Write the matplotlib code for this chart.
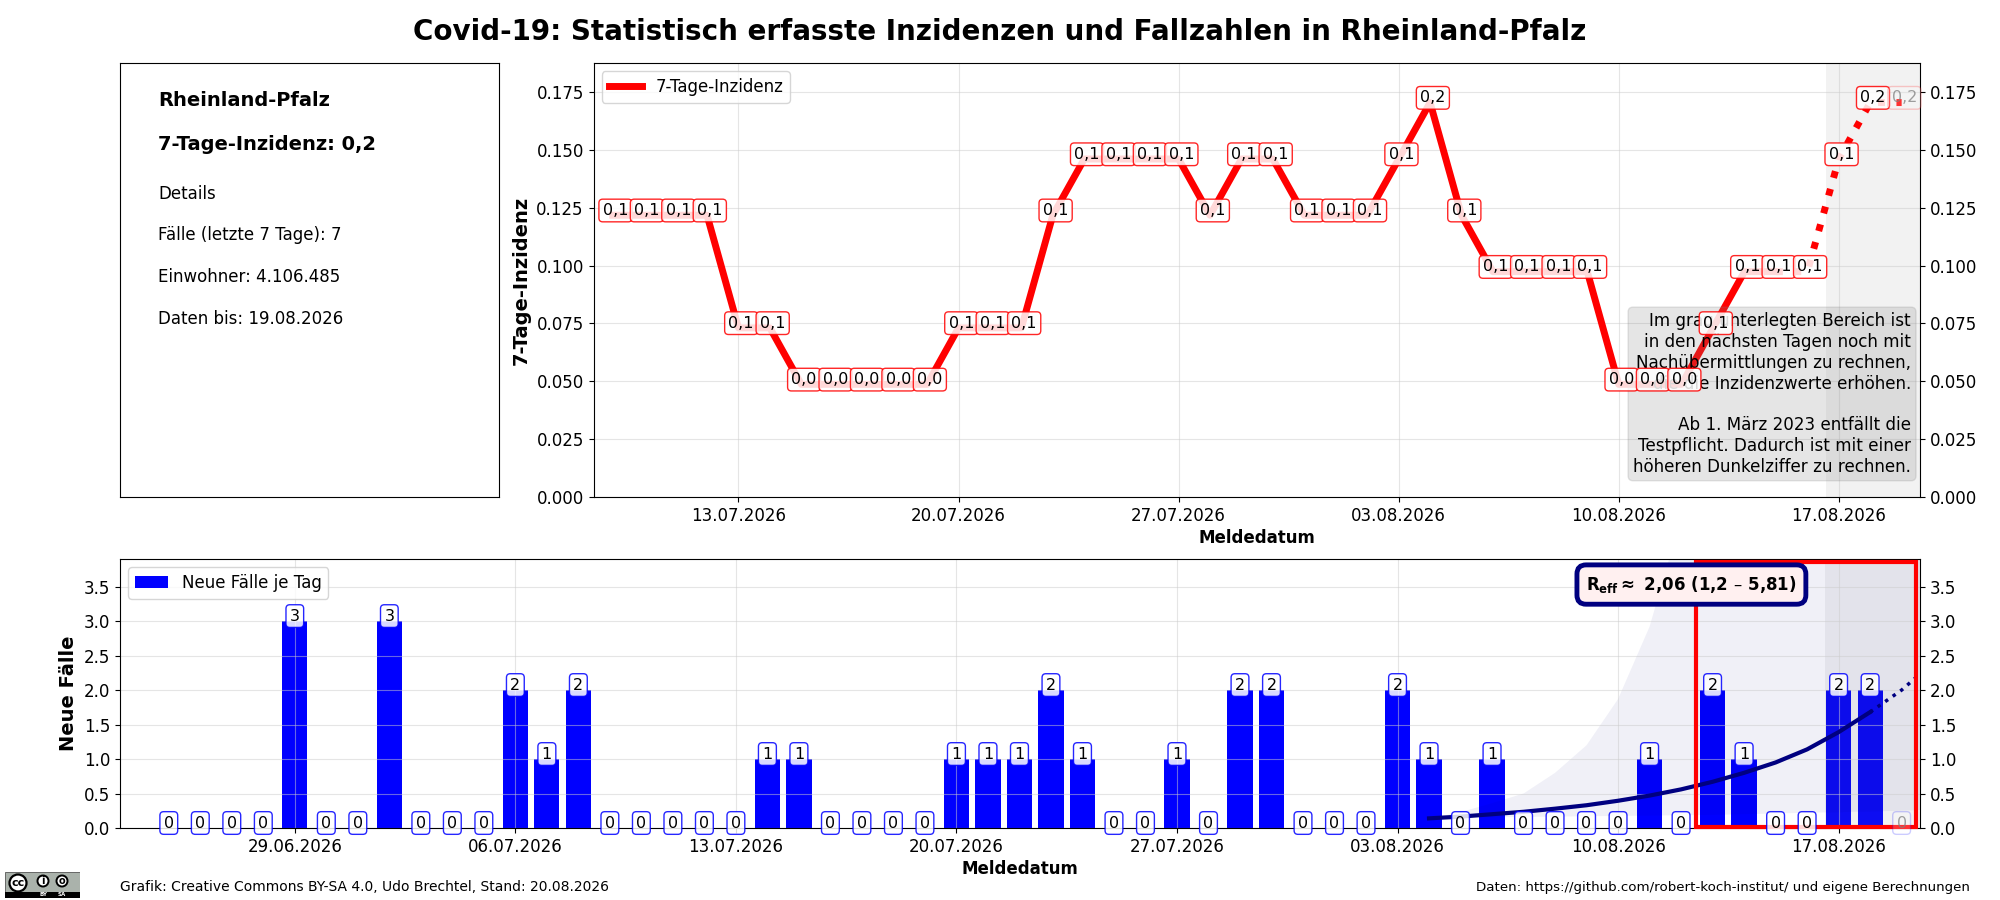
import matplotlib
matplotlib.use("Agg")
import matplotlib.pyplot as plt
import matplotlib.dates as mdates
from matplotlib.patches import Circle, Rectangle
import pandas as pd

W, H = 2000, 900

# ---- data ----
inz_start = "2026-07-09"
inz_values = [0.1218, 0.1218, 0.1218, 0.1218, 0.0731, 0.0731, 0.0487, 0.0487, 0.0487, 0.0487, 0.0487,
              0.0731, 0.0731, 0.0731, 0.1218, 0.1461, 0.1461, 0.1461, 0.1461, 0.1218, 0.1461, 0.1461,
              0.1218, 0.1218, 0.1218, 0.1461, 0.1705, 0.1218, 0.0974, 0.0974, 0.0974, 0.0974,
              0.0487, 0.0487, 0.0487, 0.0731, 0.0974, 0.0974, 0.0974, 0.1461, 0.1705, 0.1705]
inz_labels = ["0,1", "0,1", "0,1", "0,1", "0,1", "0,1", "0,0", "0,0", "0,0", "0,0", "0,0",
              "0,1", "0,1", "0,1", "0,1", "0,1", "0,1", "0,1", "0,1", "0,1", "0,1", "0,1",
              "0,1", "0,1", "0,1", "0,1", "0,2", "0,1", "0,1", "0,1", "0,1", "0,1",
              "0,0", "0,0", "0,0", "0,1", "0,1", "0,1", "0,1", "0,1", "0,2", "0,2"]
solid_count = 38  # points of the reported (solid) part

case_start = "2026-06-25"
case_values = [0, 0, 0, 0, 3, 0, 0, 3, 0, 0, 0, 2, 1, 2, 0, 0, 0, 0, 0, 1, 1, 0, 0, 0, 0,
               1, 1, 1, 2, 1, 0, 0, 1, 0, 2, 2, 0, 0, 0, 2, 1, 0, 1, 0, 0, 0, 0, 1, 0,
               2, 1, 0, 0, 2, 2, 0]

trend_start = "2026-08-04"
trend_values = [0.14, 0.165, 0.20, 0.235, 0.28, 0.33, 0.395, 0.47, 0.56, 0.67, 0.80, 0.95,
                1.14, 1.39, 1.68]
trend_ext_start = "2026-08-18"
trend_ext_values = [1.68, 2.00, 2.40]
band_low = [0.14, 0.15, 0.155, 0.16, 0.165, 0.17, 0.175, 0.18, 0.185, 0.19, 0.20, 0.21,
            0.22, 0.23, 0.24, 0.25, 0.27]
band_high = [0.14, 0.23, 0.36, 0.50, 0.80, 1.20, 1.87, 2.92, 4.5, 6.0, 7.5, 9.0, 11.0,
             13.0, 16.0, 20.0, 24.0]

title = "Covid-19: Statistisch erfasste Inzidenzen und Fallzahlen in Rheinland-Pfalz"
note = ("Im grau unterlegten Bereich ist\nin den nächsten Tagen noch mit\n"
        "Nachübermittlungen zu rechnen,\ndie die Inzidenzwerte erhöhen.\n\n"
        "Ab 1. März 2023 entfällt die\nTestpflicht. Dadurch ist mit einer\n"
        "höheren Dunkelziffer zu rechnen.")
reff_text = r"$\mathbf{R_{eff}\approx}$ 2,06 (1,2 – 5,81)"
info_bold = ["Rheinland-Pfalz", "7-Tage-Inzidenz: 0,2"]
info_plain = ["Details", "Fälle (letzte 7 Tage): 7", "Einwohner: 4.106.485", "Daten bis: 19.08.2026"]

plt.rcParams["font.family"] = "DejaVu Sans"
plt.rcParams["font.size"] = 12


def box(x0, y0, x1, y1):
    """pixel box (top-left origin) to figure fractions"""
    return [x0 / W, 1 - y1 / H, (x1 - x0) / W, (y1 - y0) / H]


def ypx(y):
    return 1 - y / H


fig = plt.figure(figsize=(20, 9), dpi=100)
fig.text(0.5, ypx(32), title, ha="center", va="center", fontsize=20, fontweight="bold")

# ---- info panel ----
ax_i = fig.add_axes(box(120, 63, 499, 497))
ax_i.set_xticks([])
ax_i.set_yticks([])
for txt, y in zip(info_bold, [101, 145]):
    fig.text(158 / W, ypx(y), txt, fontsize=14, fontweight="bold", va="center")
for txt, y in zip(info_plain, [194, 235, 277, 319]):
    fig.text(158 / W, ypx(y), txt, fontsize=12, va="center")

x_left, x_right = pd.Timestamp("2026-07-08 09:20"), pd.Timestamp("2026-08-19 14:00")
grid_kw = dict(color="#cccccc", alpha=0.5, linewidth=0.8)

# ---- incidence ----
ax_t = fig.add_axes(box(593.5, 63, 1920, 497))
dates_t = pd.date_range(inz_start, periods=len(inz_values), freq="D")
ax_t.plot(dates_t[:solid_count], inz_values[:solid_count], color="red", lw=5, label="7-Tage-Inzidenz")
ax_t.plot(dates_t[solid_count - 1:], inz_values[solid_count - 1:], color="red", lw=5, ls=":")
ax_t.axvspan(pd.Timestamp("2026-08-16 14:00"), x_right, color="gray", alpha=0.1, lw=0)
ax_t.set_ylim(0, 0.1876)
ax_t.set_xlim(x_left, x_right)
ax_t.xaxis.set_major_locator(mdates.WeekdayLocator(byweekday=mdates.MO))
ax_t.xaxis.set_major_formatter(mdates.DateFormatter("%d.%m.%Y"))
ax_t.tick_params(axis="y", right=True, labelright=True)
ax_t.grid(True, **grid_kw)
ax_t.set_xlabel("Meldedatum", fontweight="bold", fontsize=12, labelpad=3)
ax_t.set_ylabel("7-Tage-Inzidenz", fontweight="bold", fontsize=14, labelpad=4)
ax_t.legend(loc="upper left", fontsize=12)
ax_t.text(0.9932, 0.049, note, transform=ax_t.transAxes, ha="right", va="bottom", fontsize=12.1,
          zorder=3, bbox=dict(boxstyle="round", facecolor="gray", edgecolor="gray", alpha=0.2))
for i, (d, v, lab) in enumerate(zip(dates_t, inz_values, inz_labels)):
    last = i == len(inz_values) - 1
    ax_t.annotate(lab, (d, v), xytext=(2.0, 3.4), textcoords="offset points", ha="center", va="center",
                  fontsize=11.5, color="gray" if last else "black", zorder=4, alpha=0.75 if last else 1,
                  bbox=dict(boxstyle="round,pad=0.24", facecolor="white", edgecolor="red",
                            alpha=0.2 if last else 0.85))

# ---- new cases ----
ax_b = fig.add_axes(box(120, 559, 1920, 828))
dates_b = pd.date_range(case_start, periods=len(case_values), freq="D")
ax_b.bar(dates_b, case_values, width=0.8, color="blue", label="Neue Fälle je Tag")
ax_b.axvspan(pd.Timestamp("2026-08-16 14:00"), x_right, color="gray", alpha=0.1, lw=0)
dates_band = pd.date_range(trend_start, periods=len(band_low), freq="D")
ax_b.fill_between(dates_band, band_low, band_high, color="navy", alpha=0.06, lw=0)
ax_b.plot(pd.date_range(trend_start, periods=len(trend_values), freq="D"), trend_values, color="navy", lw=3)
ax_b.plot(pd.date_range(trend_ext_start, periods=len(trend_ext_values), freq="D"), trend_ext_values,
          color="navy", lw=2.5, ls=":")
x0b = pd.Timestamp("2026-06-23 10:50")
ax_b.set_xlim(x0b, x_right)
ax_b.set_ylim(0, 3.9)
ax_b.xaxis.set_major_locator(mdates.WeekdayLocator(byweekday=mdates.MO))
ax_b.xaxis.set_major_formatter(mdates.DateFormatter("%d.%m.%Y"))
ax_b.tick_params(axis="y", right=True, labelright=True)
ax_b.grid(True, **grid_kw)
ax_b.set_xlabel("Meldedatum", fontweight="bold", fontsize=12, labelpad=3)
ax_b.set_ylabel("Neue Fälle", fontweight="bold", fontsize=14, labelpad=4)
ax_b.legend(loc="upper left", fontsize=12)
ax_b.add_patch(Rectangle((0.8756, 0.005), 0.1222, 0.984, transform=ax_b.transAxes, fill=False,
                         edgecolor="red", lw=3, zorder=3, clip_on=False))
for i, (d, v) in enumerate(zip(dates_b, case_values)):
    last = i == len(case_values) - 1
    ax_b.annotate(str(v), (d, v), xytext=(0, 3.6), textcoords="offset points", ha="center", va="center",
                  fontsize=11.5, color="gray" if last else "black", zorder=4, alpha=0.75 if last else 1,
                  annotation_clip=False,
                  bbox=dict(boxstyle="round,pad=0.24", facecolor="white", edgecolor="blue",
                            alpha=0.2 if last else 0.85))
ax_b.text(0.873, 0.905, reff_text, transform=ax_b.transAxes, ha="center", va="center", fontsize=12,
          fontweight="bold", zorder=5,
          bbox=dict(boxstyle="round,pad=0.55", facecolor="#fff0f0", edgecolor="navy", linewidth=3.5))

# ---- footer ----
fig.text(120 / W, ypx(887), "Grafik: Creative Commons BY-SA 4.0, Udo Brechtel, Stand: 20.08.2026",
         fontsize=10, va="center")
fig.text(1970 / W, ypx(887), "Daten: https://github.com/robert-koch-institut/ und eigene Berechnungen",
         fontsize=9.6, va="center", ha="right")

# ---- licence badge ----
ax_l = fig.add_axes(box(5, 872, 80, 898))
ax_l.set_xlim(5, 80)
ax_l.set_ylim(898, 872)
ax_l.axis("off")
ax_l.add_patch(Rectangle((5, 872), 75, 26, facecolor="#aab2ab", edgecolor="#555555", lw=0.6))
ax_l.add_patch(Rectangle((5, 892), 75, 6, facecolor="black", edgecolor="none"))
ax_l.add_patch(Circle((18, 883), 8.5, facecolor="white", edgecolor="black", lw=1.6, zorder=3))
ax_l.add_patch(Circle((43, 881), 5.5, facecolor="white", edgecolor="black", lw=1.4, zorder=3))
ax_l.add_patch(Circle((62, 881), 5.5, facecolor="white", edgecolor="black", lw=1.4, zorder=3))
ax_l.text(18, 882.5, "cc", fontsize=8, fontweight="bold", ha="center", va="center", zorder=4)
ax_l.text(43, 881, "i", fontsize=7, fontweight="bold", ha="center", va="center", zorder=4)
ax_l.text(62, 881, "o", fontsize=7, fontweight="bold", ha="center", va="center", zorder=4)
ax_l.text(43, 895, "BY", fontsize=4, fontweight="bold", color="white", ha="center", va="center", zorder=4)
ax_l.text(62, 895, "SA", fontsize=4, fontweight="bold", color="white", ha="center", va="center", zorder=4)

fig.savefig("out.png", dpi=100)
